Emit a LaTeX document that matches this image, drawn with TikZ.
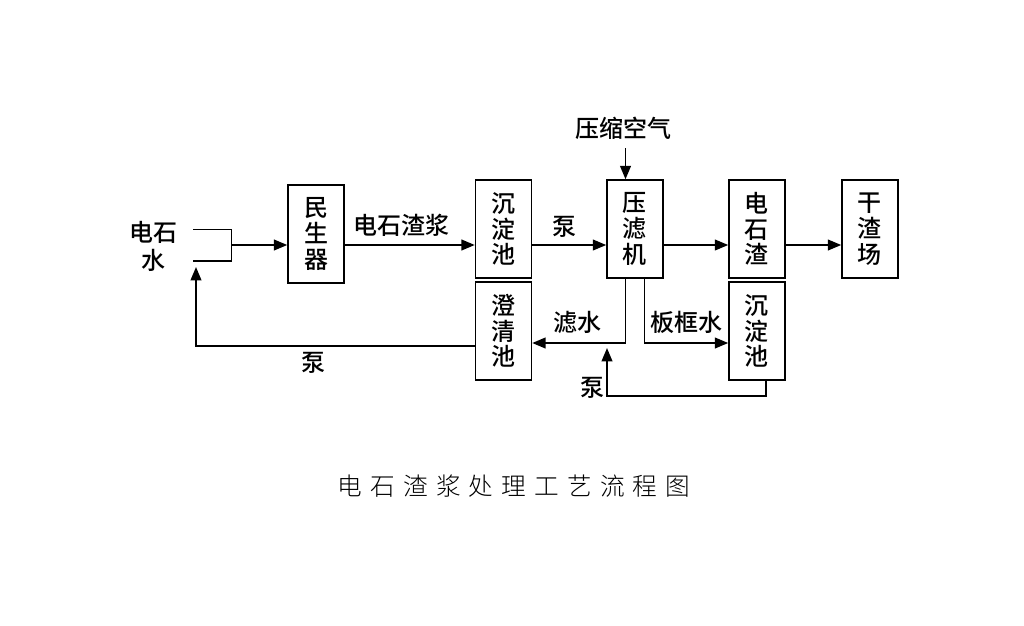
\documentclass[tikz,border=0pt]{standalone}
\usepackage{fontspec}
\setmainfont{Noto Sans CJK SC}[UprightFont=* Medium]
\newfontfamily\capfont{Noto Sans CJK SC}[UprightFont=* Light,LetterSpace=33]
\usetikzlibrary{positioning}
\usetikzlibrary{arrows.meta}

\begin{document}
\begin{tikzpicture}[x=0.75pt,y=-0.75pt,on grid,line width=1.4pt,
    >={Triangle[length=10pt,width=8pt]},
    unit/.style={draw,line width=1.1pt,minimum width=42pt,minimum height=73.5pt,
      align=center,inner sep=0pt,font=\fontsize{18}{19.3}\selectfont},
    lbl/.style={font=\fontsize{18}{21}\selectfont,align=center,inner sep=0pt}]
   \useasboundingbox (0,0) rectangle (1024,625);
   \node[unit] (msq) at (316,234) {民\\生\\器};
   \node[unit] (cdc) at (503.5,229) {沉\\淀\\池};
   \node[unit] (ylj) [right=98.6pt of cdc] {压\\滤\\机};
   \node[unit] (dsz) [right=91.5pt of ylj] {电\\石\\渣};
   \node[unit] (gzc) [right=84.75pt of dsz] {干\\渣\\场};
   \node[unit] (cqc) [below=76.5pt of cdc] {澄\\清\\池};
   \node[unit] (cdc2) [below=76.5pt of dsz] {沉\\淀\\池};
   \node[lbl] (dsw) at (153,246) {电石\\水};
   \node[lbl] (air) at (623,128) {压缩空气};
   \coordinate (ws1) at (193,229.5);
   \coordinate (ws2) at (231.5,229.5);
   \coordinate (ws3) at (231.5,261);
   \coordinate (ws4) at (193,261);
   \coordinate (wj) at (231.5,245);
   \coordinate (lw) at (625.5,343);
   \coordinate (bk) at (644.5,343);
   \coordinate (hl) at (607,396);
   \coordinate (hr) at (766,396);
   \coordinate (hs) at (196,346);
   % feed line
   \draw (ws1) -- (ws2) -- (ws3) -- (ws4);
   \draw[->] (wj) -- (wj -| msq.west);
   \draw[->] (msq.east |- wj) -- node[lbl,pos=0.435,yshift=15pt] {电石渣浆} (cdc.west |- wj);
   \draw[->] (cdc.east |- wj) -- node[lbl,pos=0.44,yshift=13.5pt] {泵} (ylj.west |- wj);
   \draw[->] (ylj.east |- wj) -- (dsz.west |- wj);
   \draw[->] (dsz.east |- wj) -- (gzc.west |- wj);
   \draw[->] (air.south -| lw) ++(0,8) -- (lw |- ylj.north);
   % water lines
   \draw[->] (lw |- ylj.south) -- (lw) -- node[lbl,pos=0.51,yshift=15.75pt] {滤水} (cqc.east |- lw);
   \draw[->] (bk |- ylj.south) -- (bk) -- node[lbl,pos=0.5,yshift=15.75pt] {板框水} (cdc2.west |- bk);
   \draw[->] (hr |- cdc2.south) -- (hr) -- (hl) -- ([yshift=-3.75pt]hl |- lw);
   \node[lbl] (pb) at (592,388) {泵};
   \draw[->] (cqc.west |- hs) -- node[lbl,pos=0.58,yshift=-12.75pt] {泵} (hs) -- ([yshift=-4.5pt]hs |- ws4);
   \node[font=\capfont\fontsize{18.5}{20}\selectfont] (cap) at (514,486) {电石渣浆处理工艺流程图};
\end{tikzpicture}
\end{document}
